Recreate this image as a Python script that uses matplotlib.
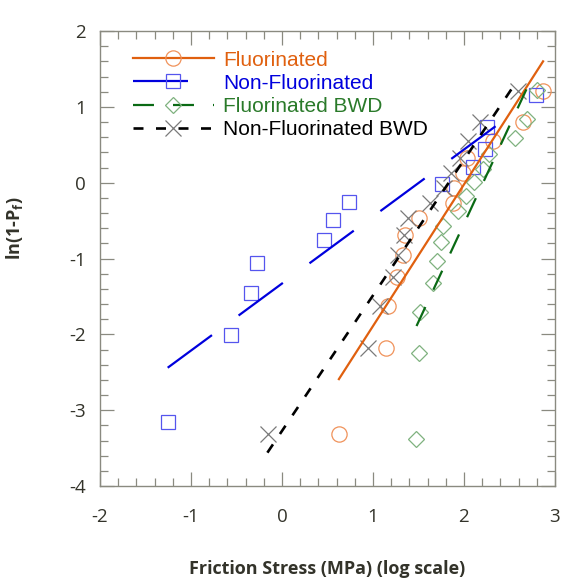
import matplotlib.pyplot as plt
from matplotlib.lines import Line2D
from matplotlib.ticker import MultipleLocator

plt.rcParams['lines.scale_dashes'] = False
plt.rcParams['axes.unicode_minus'] = False

# ln(1-Pf) ranks and friction stress (log) for each set
fl_x = [0.63, 1.143, 1.161, 1.267, 1.333, 1.352, 1.502, 1.883, 1.89, 1.99, 2.03, 2.32, 2.65, 2.87]
fl_y = [-3.314, -2.178, -1.626, -1.246, -0.947, -0.694, -0.472, -0.265, -0.068, 0.127, 0.327, 0.544, 0.804, 1.204]

nf_x = [-1.256, -0.56, -0.337, -0.271, 0.458, 0.56, 0.74, 1.758, 2.10, 2.23, 2.256, 2.79]
nf_y = [-3.157, -2.013, -1.454, -1.065, -0.755, -0.489, -0.248, -0.019, 0.209, 0.450, 0.732, 1.156]

fb_x = [1.477, 1.502, 1.516, 1.655, 1.699, 1.743, 1.766, 1.93, 2.02, 2.11, 2.21, 2.28, 2.56, 2.695, 2.80]
fb_y = [-3.384, -2.250, -1.702, -1.325, -1.031, -0.783, -0.566, -0.367, -0.179, 0.003, 0.186, 0.375, 0.583, 0.834, 1.224]

nb_x = [-0.157, 0.949, 1.077, 1.223, 1.278, 1.344, 1.388, 1.63, 1.78, 1.86, 1.96, 2.05, 2.18, 2.59]
nb_y = [-3.314, -2.178, -1.626, -1.246, -0.947, -0.694, -0.472, -0.265, -0.068, 0.127, 0.327, 0.544, 0.804, 1.204]

# fitted lines (end points)
fl_fit_x, fl_fit_y = [0.626, 2.87], [-2.59, 1.60]
nf_fit_x, nf_fit_y = [-1.256, 2.60], [-2.44, 0.967]
fb_fit_x, fb_fit_y = [1.479, 2.743], [-1.89, 1.376]
nb_fit_x, nb_fit_y = [-0.16, 2.56], [-3.56, 1.30]

labels = ['Fluorinated', 'Non-Fluorinated', 'Fluorinated BWD', 'Non-Fluorinated BWD']

series = [
    # x, y, fit x, fit y, line colour, marker, marker colour, dashes, lw
    (fl_x, fl_y, fl_fit_x, fl_fit_y, '#e0600f', 'o', '#f0925a', None, 1.6),
    (nf_x, nf_y, nf_fit_x, nf_fit_y, '#0000dd', 's', '#5555ee', (39.6, 23.8), 1.6),
    (fb_x, fb_y, fb_fit_x, fb_fit_y, '#0a6a14', 'D', '#7fb27f', (15.1, 13.7), 1.6),
    (nb_x, nb_y, nb_fit_x, nb_fit_y, '#000000', 'x', '#7a7a7a', (7.2, 9.0), 1.9),
]
text_colors = ['#e0600f', '#0000dd', '#2a7a2a', '#000000']
msizes = {'o': 11, 's': 10.5, 'D': 8.5, 'x': 11}

fig = plt.figure(figsize=(5.63, 5.80), dpi=100)
ax = fig.add_axes([0.1776, 0.162, 0.808, 0.7845])

handles = []
for x, y, fx, fy, lc, mk, mc, dash, lw in series:
    ls = '-' if dash is None else (0, dash)
    ax.plot(fx, fy, color=lc, lw=lw, linestyle=ls, zorder=3)
    ax.plot(x, y, linestyle='none', marker=mk, markersize=msizes[mk],
            markerfacecolor='none', markeredgecolor=mc, markeredgewidth=0.9,
            zorder=2)
    handles.append(Line2D([], [], color=lc, lw=lw, linestyle=ls, marker=mk,
                          markersize=msizes[mk], markerfacecolor='none',
                          markeredgecolor=mc, markeredgewidth=0.9))

ax.set_xlim(-2, 3)
ax.set_ylim(-4, 2)
ax.xaxis.set_major_locator(MultipleLocator(1))
ax.xaxis.set_minor_locator(MultipleLocator(0.2))
ax.yaxis.set_major_locator(MultipleLocator(1))
ax.yaxis.set_minor_locator(MultipleLocator(0.2))

tick_col = '#8a8a80'
lab_col = '#33332a'
ax.tick_params(which='both', direction='in', top=True, right=True,
               color=tick_col, width=0.9, labelcolor=lab_col, labelsize=13.5)
ax.tick_params(which='major', length=10)
ax.tick_params(which='minor', length=5.5)
ax.tick_params(axis='x', which='major', pad=16)
ax.tick_params(axis='y', which='major', pad=10)
for lab in ax.get_xticklabels() + ax.get_yticklabels():
    lab.set_family('Open Sans')
for sp in ax.spines.values():
    sp.set_color(tick_col)
    sp.set_linewidth(1.0)

ax.set_xlabel('Friction Stress (MPa) (log scale)', fontsize=13, fontweight='bold',
              color=lab_col, family='Open Sans', labelpad=24)
ax.set_ylabel('ln(1-P$_\\mathregular{f}$)', fontsize=13, fontweight='bold',
              color=lab_col, family='Open Sans')
ax.yaxis.set_label_coords(-0.165, 0.567)

leg = ax.legend(handles, labels, loc='upper left', bbox_to_anchor=(0.072, 0.957),
                frameon=False, handlelength=3.9, handletextpad=0.45,
                labelspacing=0.2, borderpad=0, borderaxespad=0, numpoints=1,
                prop={'family': 'Liberation Sans', 'size': 15})
for t, c in zip(leg.get_texts(), text_colors):
    t.set_color(c)

fig.savefig('out.png', dpi=100)
